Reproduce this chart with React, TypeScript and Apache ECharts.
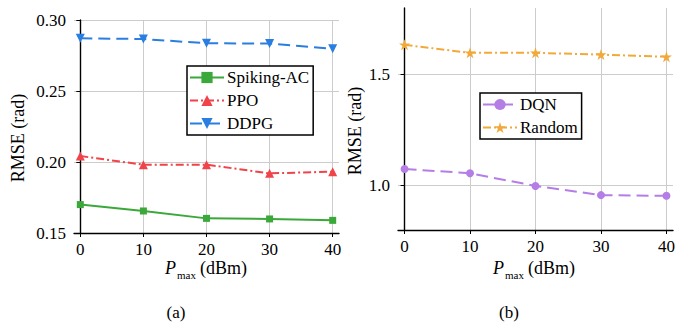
import React, { useEffect, useRef } from "react";
import * as echarts from "echarts";

const xValues = [0, 10, 20, 30, 40];
const xTicks = [0, 10, 20, 30, 40];
const spikingAC = [0.170, 0.1655, 0.1603, 0.1599, 0.1589];
const ppo = [0.2042, 0.1981, 0.1981, 0.192, 0.1932];
const ddpg = [0.2871, 0.2866, 0.2836, 0.2834, 0.2798];
const dqn = [1.075, 1.0555, 0.9985, 0.957, 0.954];
const randomPolicy = [1.634, 1.598, 1.598, 1.59, 1.58];
const leftYTicks = [0.15, 0.2, 0.25, 0.3];
const rightYTicks = [1.0, 1.5];

const FONT = "Liberation Serif";
const STAR =
  "path://M12,0 L14.9,8.5 L24,8.5 L16.6,13.8 L19.4,22.5 L12,17.2 L4.6,22.5 L7.4,13.8 L0,8.5 L9.1,8.5 Z";

const pairs = (ys: number[]) => xValues.map((x, i) => [x, ys[i]]);

export default function App() {
  const ref = useRef<HTMLDivElement>(null);
  useEffect(() => {
    document.body.style.margin = "0";
    const chart = echarts.init(ref.current!, null, { renderer: "svg" });
    const axisLine = { show: true, lineStyle: { color: "#000", width: 1.4 } };
    const axisTick = (vals: number[]) => ({
      show: true,
      inside: false,
      length: 4,
      lineStyle: { color: "#000", width: 1 },
      customValues: vals,
    });
    const splitLine = { show: true, lineStyle: { color: "#cccccc", width: 1 } };
    const labelBase = { color: "#000", fontFamily: FONT, fontSize: 17 };
    const xAxisCommon = {
      type: "value",
      min: -1,
      max: 41,
      axisLine,
      axisTick: axisTick(xTicks),
      axisLabel: { ...labelBase, margin: 8, customValues: xTicks },
      splitLine,
    };
    const titleRich = {
      p: { fontFamily: FONT, fontSize: 18, fontStyle: "italic", color: "#000", lineHeight: 24, verticalAlign: "middle" },
      s: { fontFamily: FONT, fontSize: 11, color: "#000", lineHeight: 24, verticalAlign: "bottom", padding: [0, 4, 0, 1] },
      n: { fontFamily: FONT, fontSize: 18, color: "#000", lineHeight: 24, verticalAlign: "middle" },
    };
    const xTitle = (cx: number) => ({
      type: "text",
      x: cx,
      y: 268,
      style: {
        text: "{p|P}{s|max}{n|(dBm)}",
        rich: titleRich,
        align: "center",
        verticalAlign: "middle",
      },
    });
    const yTitle = (cx: number, cy: number) => ({
      type: "text",
      x: cx,
      y: cy,
      rotation: Math.PI / 2,
      style: {
        text: "RMSE (rad)",
        fontFamily: FONT,
        fontSize: 18,
        fill: "#000",
        align: "center",
        verticalAlign: "middle",
      },
    });
    const caption = (cx: number, t: string) => ({
      type: "text",
      x: cx,
      y: 312,
      style: { text: t, fontFamily: FONT, fontSize: 17, fill: "#000", align: "center", verticalAlign: "middle" },
    });
    const legendCommon = {
      orient: "vertical",
      backgroundColor: "#fff",
      borderColor: "#000",
      borderWidth: 1.5,
      borderRadius: 0,
      itemWidth: 34,
      itemHeight: 14,
      itemGap: 6,
      textStyle: { fontFamily: FONT, fontSize: 17, color: "#000", padding: [0, 0, 0, -2] },
    };
    const line = (
      name: string,
      data: number[],
      color: string,
      type: any,
      symbol: string,
      size: number,
      idx: number,
      rotate = 0
    ) => ({
      name,
      type: "line",
      xAxisIndex: idx,
      yAxisIndex: idx,
      data: pairs(data),
      color,
      symbol,
      symbolSize: size,
      symbolRotate: rotate,
      showSymbol: true,
      lineStyle: { color, width: 2, type },
      itemStyle: { color },
      z: 3,
    });
    chart.setOption({
      animation: false,
      backgroundColor: "#fff",
      grid: [
        { left: 74, top: 20, width: 265, height: 213 },
        { left: 398, top: 8, width: 275, height: 222 },
      ],
      xAxis: [
        { ...xAxisCommon, gridIndex: 0 },
        { ...xAxisCommon, gridIndex: 1 },
      ],
      yAxis: [
        {
          type: "value",
          gridIndex: 0,
          min: 0.15,
          max: 0.3,
          axisLine,
          axisTick: axisTick(leftYTicks),
          axisLabel: { ...labelBase, margin: 8, customValues: leftYTicks, formatter: (v: number) => v.toFixed(2) },
          splitLine,
        },
        {
          type: "value",
          gridIndex: 1,
          min: 0.8,
          max: 1.8,
          axisLine,
          axisTick: axisTick(rightYTicks),
          axisLabel: { ...labelBase, margin: 8, customValues: rightYTicks, formatter: (v: number) => v.toFixed(1) },
          splitLine,
        },
      ],
      legend: [
        {
          ...legendCommon,
          left: 187,
          top: 66,
          padding: [3, 4, 3, 2],
          data: ["Spiking-AC", "PPO", "DDPG"],
        },
        {
          ...legendCommon,
          left: 480,
          top: 93,
          padding: [3, 4, 3, 2],
          data: ["DQN", "Random"],
        },
      ],
      series: [
        line("Spiking-AC", spikingAC, "#3ba83a", "solid", "rect", 7, 0),
        line("PPO", ppo, "#f0434a", [8, 3, 2, 3], "triangle", 9, 0),
        line("DDPG", ddpg, "#2a7de1", [12, 6], "triangle", 9, 0, 180),
        line("DQN", dqn, "#b47ee6", [12, 6], "circle", 8, 1),
        line("Random", randomPolicy, "#f2a93b", [8, 3, 2, 3], STAR, 11, 1),
      ],
      graphic: [
        yTitle(18, 138),
        yTitle(355, 131),
        xTitle(206),
        xTitle(534),
        caption(176, "(a)"),
        caption(509, "(b)"),
      ],
    });
    return () => chart.dispose();
  }, []);
  return (
    <div
      ref={ref}
      style={{ position: "fixed", left: 0, top: 0, width: 692, height: 325 }}
    />
  );
}
